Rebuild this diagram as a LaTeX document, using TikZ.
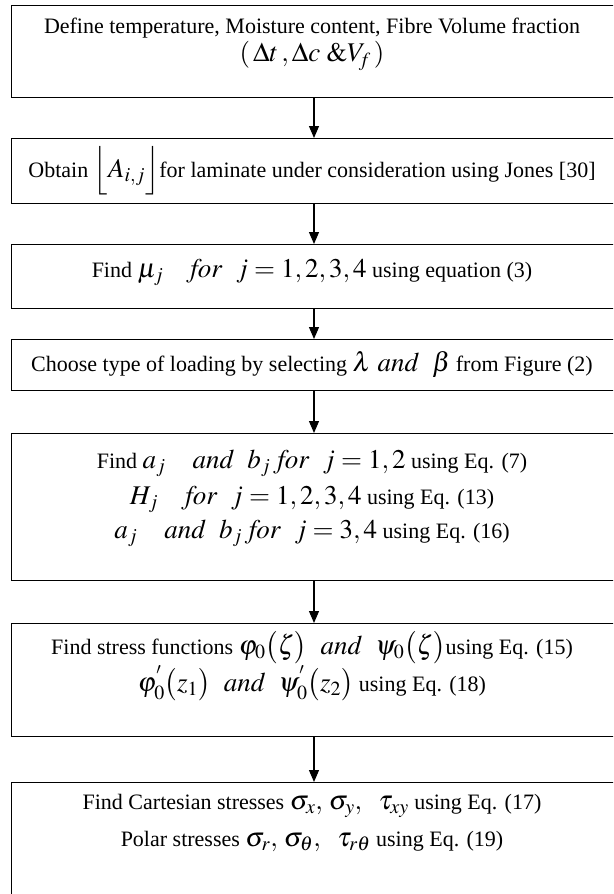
\documentclass[tikz,border=0pt]{standalone}
\usepackage{mathptmx}
\usepackage{fontspec}
\setmainfont{Liberation Serif}
\usetikzlibrary{arrows.meta}
\newcommand\mth[1]{{\fontsize{27}{30}\selectfont$#1$}}
\newcommand\mw[1]{\mathit{#1}}
\begin{document}
\begin{tikzpicture}[x=1pt,y=-1pt,
  frame/.style={draw, line width=1.2pt, anchor=north west, minimum width=700pt, inner sep=0pt},
  lbl/.style={inner sep=0pt, font=\fontsize{22}{26}\selectfont},
  flow/.style={line width=1.2pt, -{Triangle[width=10pt,length=12pt]}}]
\useasboundingbox (0,0) rectangle (613,894);
\clip (0,0) rectangle (613,894);

% process boxes
\node[frame, minimum height=92pt]  (b1) at (11,5)   {};
\node[frame, minimum height=65pt]  (b2) at (11,138) {};
\node[frame, minimum height=64pt]  (b3) at (11,244) {};
\node[frame, minimum height=51pt]  (b4) at (11,339) {};
\node[frame, minimum height=147pt] (b5) at (11,433) {};
\node[frame, minimum height=113pt] (b6) at (11,623) {};
\node[frame, minimum height=150pt] (b7) at (11,782) {};

% box texts
\node[lbl] (t1a) at (312,28) {Define temperature, Moisture content, Fibre Volume fraction};
\node[lbl] (t1b) at (312,56) {\mth{(\,\Delta t\,,\Delta c\;\&V_{\!f}\,)}};
\node[lbl] (t2)  at (312,171) {Obtain \mth{\Bigl\lfloor A_{i,j}\Bigr\rfloor}for laminate under consideration using Jones [30]};
\node[lbl] (t3)  at (312,272) {Find \mth{\mu_j\quad \mw{for}\ \ j=1,2,3,4} using equation (3)};
\node[lbl] (t4)  at (312,364) {Choose type of loading by selecting \mth{\lambda\ \mw{and}\ \ \beta} from Figure (2)};
\node[lbl] (t5a) at (312,463) {Find \mth{a_j\quad \mw{and}\ \ b_j\ \mw{for}\ \ j=1,2} using Eq. (7)};
\node[lbl] (t5b) at (312,499) {\mth{H_j\quad \mw{for}\ \ j=1,2,3,4} using Eq. (13)};
\node[lbl] (t5c) at (312,533) {\mth{a_j\quad \mw{and}\ \ b_j\ \mw{for}\ \ j=3,4} using Eq. (16)};
\node[lbl] (t6a) at (312,648) {Find stress functions \mth{\varphi_0\bigl(\zeta\bigr)\ \ \mw{and}\ \ \psi_0\bigl(\zeta\bigr)}using Eq. (15)};
\node[lbl] (t6b) at (312,683) {\mth{\varphi^{'}_{0}\bigl(z_1\bigr)\ \ \mw{and}\ \ \psi^{'}_{0}\bigl(z_2\bigr)} using Eq. (18)};
\node[lbl] (t7a) at (312,806) {Find Cartesian stresses \mth{\sigma_x,\,\sigma_y,\ \ \tau_{xy}} using Eq. (17)};
\node[lbl] (t7b) at (312,841) {Polar stresses \mth{\sigma_r,\,\sigma_\theta,\ \ \tau_{r\theta}} using Eq. (19)};

% connectors
\coordinate (ax) at (314,0);
\draw[flow] (ax |- b1.south) -- (ax |- b2.north);
\draw[flow] (ax |- b2.south) -- (ax |- b3.north);
\draw[flow] (ax |- b3.south) -- (ax |- b4.north);
\draw[flow] (ax |- b4.south) -- (ax |- b5.north);
\draw[flow] (ax |- b5.south) -- (ax |- b6.north);
\draw[flow] (ax |- b6.south) -- (ax |- b7.north);
\end{tikzpicture}
\end{document}
